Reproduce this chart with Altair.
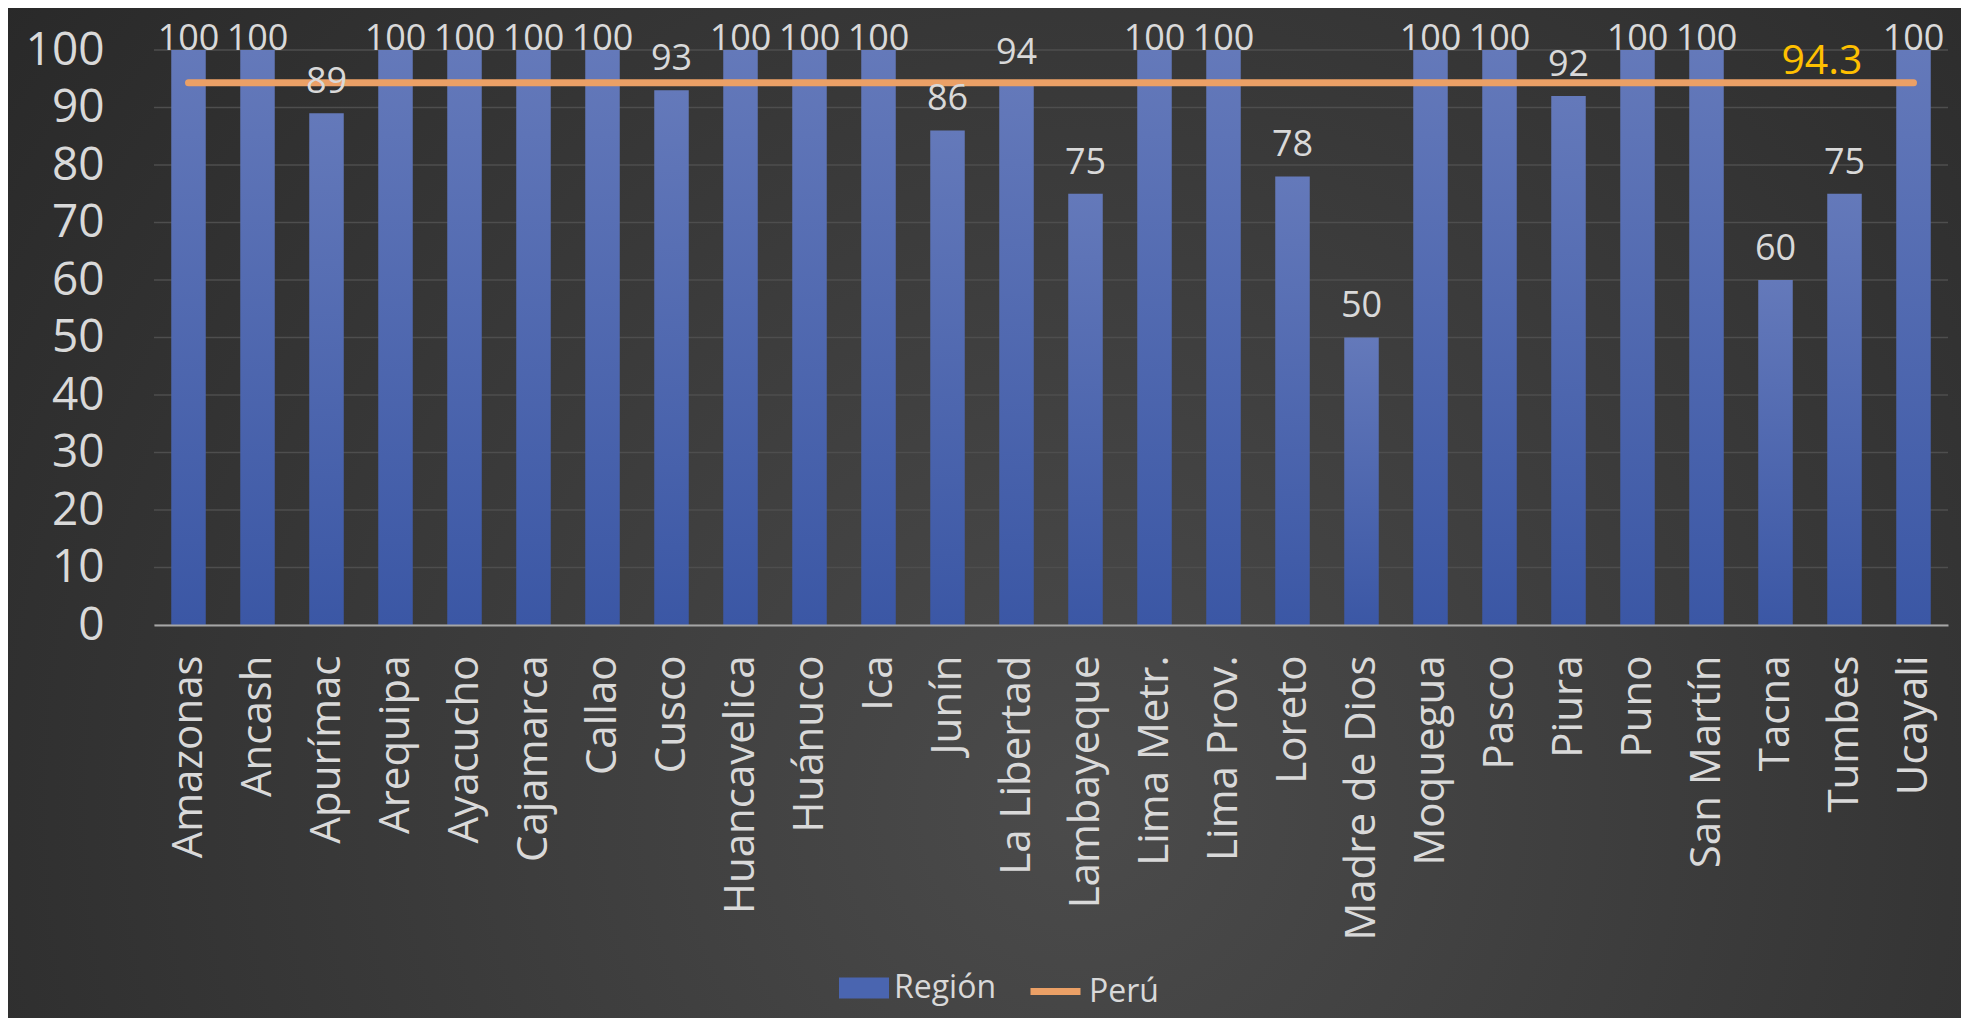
import altair as alt
import pandas as pd

regions = ["Amazonas", "Ancash", "Apurímac", "Arequipa", "Ayacucho", "Cajamarca",
           "Callao", "Cusco", "Huancavelica", "Huánuco", "Ica", "Junín",
           "La Libertad", "Lambayeque", "Lima Metr.", "Lima Prov.", "Loreto",
           "Madre de Dios", "Moquegua", "Pasco", "Piura", "Puno", "San Martín",
           "Tacna", "Tumbes", "Ucayali"]
region_values = [100, 100, 89, 100, 100, 100, 100, 93, 100, 100, 100, 86, 94, 75,
                 100, 100, 78, 50, 100, 100, 92, 100, 100, 60, 75, 100]
peru_value = 94.3
y_ticks = [0, 10, 20, 30, 40, 50, 60, 70, 80, 90, 100]
series_names = ["Región", "Perú"]

FONT = "Open Sans"
LABEL = "#D9D9D9"
BLUE = "#4A65B0"
ORANGE = "#EBA066"

bars_df = pd.DataFrame({"region": regions, "value": region_values, "series": series_names[0]})
line_df = pd.DataFrame({"region": regions, "value": [peru_value] * len(regions), "series": series_names[1]})
last_df = line_df.tail(1)
grid_df = pd.DataFrame({"tick": y_ticks})

W, H = 1794, 575
PL, PT, PR, PB = 146, 42, 13, 393

x_axis = alt.Axis(title=None, labelAngle=-90, labelFontSize=42, labelFont=FONT,
                  labelColor=LABEL, ticks=False, labelPadding=30, labelLimit=500,
                  domainColor="#A6A6A6", domainWidth=2, grid=False,
                  labelAlign="right", labelBaseline="middle", zindex=1)
x_scale = alt.Scale(paddingInner=0.5, paddingOuter=0.25)
y_axis = alt.Axis(title=None, values=y_ticks, labelFontSize=46, labelFont=FONT,
                  labelColor=LABEL, ticks=False, domain=False, grid=False,
                  labelPadding=50, labelFlush=False, zindex=1)
y_scale = alt.Scale(domain=[0, 100], nice=False)

def X():
    return alt.X("region:N", sort=regions, scale=x_scale, axis=x_axis)

def Y(field):
    return alt.Y(field, scale=y_scale, axis=y_axis)

bg = alt.Chart(pd.DataFrame({"a": [0]})).mark_rect(
    color=alt.RadialGradient(
        gradient="radial", x1=0.55, y1=0.65, r1=0, x2=0.55, y2=0.65, r2=0.75,
        stops=[alt.GradientStop(offset=0, color="#4B4B4B"),
               alt.GradientStop(offset=1, color="#262626")])
).encode(x=alt.value(-PL), x2=alt.value(W + PR), y=alt.value(-PT), y2=alt.value(H + PB))

grid = alt.Chart(grid_df).mark_rule(color="#4E4E4E", strokeWidth=1.5).encode(
    y=Y("tick:Q")
)

bars = alt.Chart(bars_df).mark_bar(
    color=alt.LinearGradient(
        gradient="linear", x1=0, y1=0, x2=0, y2=1,
        stops=[alt.GradientStop(offset=0, color="#6479BA"),
               alt.GradientStop(offset=1, color="#3B57A5")])
).encode(x=X(), y=Y("value:Q"))

legend_bar = alt.Chart(bars_df).transform_filter("false").mark_bar().encode(
    x=X(),
    y=Y("value:Q"),
    fill=alt.Fill("series:N",
                  scale=alt.Scale(domain=[series_names[0]], range=[BLUE]),
                  legend=alt.Legend(title=None, orient="none", legendX=685, legendY=913,
                                    symbolType="M-1,-0.42H1V0.42H-1Z", symbolSize=2500,
                                    symbolStrokeWidth=0, labelFontSize=32, labelFont=FONT,
                                    labelColor=LABEL, labelOffset=5, padding=0, zindex=1))
)

line = alt.Chart(line_df).mark_line(strokeWidth=7, strokeCap="round").encode(
    x=X(),
    y=Y("value:Q"),
    stroke=alt.Stroke("series:N",
                      scale=alt.Scale(domain=[series_names[1]], range=[ORANGE]),
                      legend=alt.Legend(title=None, orient="none", legendX=873, legendY=913,
                                        symbolType="stroke", symbolSize=2500,
                                        symbolStrokeWidth=7, labelFontSize=32, labelFont=FONT,
                                        labelColor=LABEL, labelOffset=5, padding=0, zindex=1))
)

labels = alt.Chart(bars_df).transform_calculate(
    label_y="min(datum.value + 3.5, 100)"
).mark_text(font=FONT, fontSize=36, color=LABEL, baseline="alphabetic", align="center").encode(
    x=X(),
    y=Y("label_y:Q"),
    text=alt.Text("value:Q", format="d")
)

peru_label = alt.Chart(last_df).mark_text(
    font=FONT, fontSize=41, color="#FFC000", baseline="alphabetic", align="right", dx=-51, dy=-9
).encode(
    x=X(),
    y=Y("value:Q"),
    text=alt.Text("value:Q", format=".1f")
)

chart = alt.layer(bg, grid, bars, legend_bar, line, labels, peru_label).properties(
    width=W, height=H,
    autosize=alt.AutoSizeParams(type="none"),
    padding={"left": PL, "top": PT, "right": PR, "bottom": PB},
    background="#2E2E2E"
).configure_view(stroke=None).resolve_scale(fill="independent", stroke="independent")

chart.save("out.html", embed_options={"renderer": "svg", "actions": False})
